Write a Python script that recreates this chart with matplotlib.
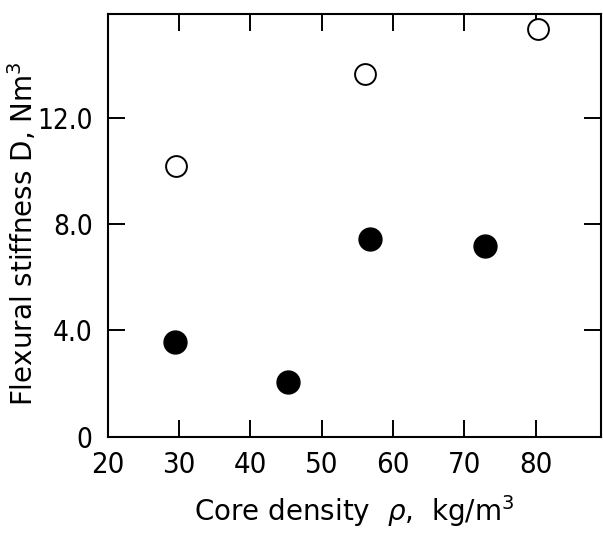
import matplotlib
matplotlib.use("Agg")
import matplotlib.pyplot as plt

# open circles
open_x = [29.5, 56.0, 80.3]
open_y = [10.2, 13.65, 15.35]
# filled circles
filled_x = [29.4, 45.2, 56.7, 72.9]
filled_y = [3.55, 2.05, 7.45, 7.17]

x_ticks = [20, 30, 40, 50, 60, 70, 80]
y_ticks = [0, 4.0, 8.0, 12.0]
y_labels = ["0", "4.0", "8.0", "12.0"]

plt.rcParams['font.family'] = ['DejaVu Sans']

fig = plt.figure(figsize=(6.03, 5.38), dpi=100)
ax = fig.add_axes([0.179, 0.188, 0.818, 0.786])

ax.plot(open_x, open_y, 'o', ms=15, mfc='white', mec='black', mew=1.4, clip_on=False, zorder=3)
ax.plot(filled_x, filled_y, 'o', ms=16.5, mfc='black', mec='black', clip_on=False, zorder=3)

ax.set_xlim(20, 89.2)
ax.set_ylim(0, 15.9)
ax.set_xticks(x_ticks)
ax.set_yticks(y_ticks)
ax.set_yticklabels(y_labels)

ax.tick_params(direction='in', length=12, width=1.4, top=True, right=True,
               labelsize=21, pad=10)
ax.tick_params(axis='y', labelsize=20, pad=11)
for lab in ax.get_xticklabels() + ax.get_yticklabels():
    lab.set_fontstretch('condensed')
for s in ax.spines.values():
    s.set_linewidth(1.5)

ax.set_xlabel(r"Core density  $\rho$,  kg/m$^3$", fontsize=20)
ax.set_ylabel(r"Flexural stiffness D, Nm$^3$", fontsize=20)
ax.xaxis.set_label_coords(0.5, -0.132)
ax.yaxis.set_label_coords(-0.14, 0.48)

fig.savefig("out.png", dpi=100)
